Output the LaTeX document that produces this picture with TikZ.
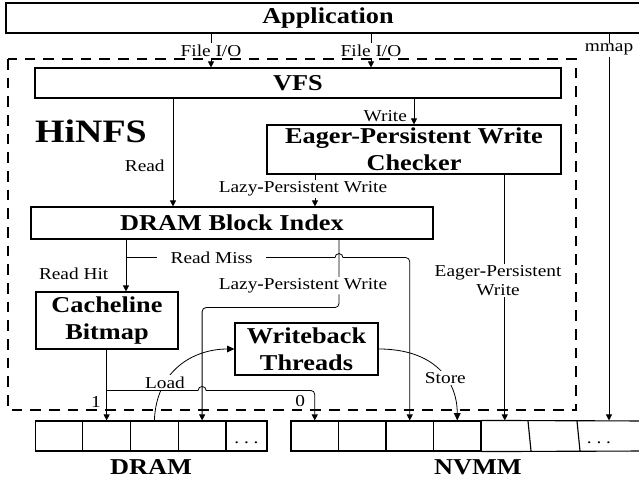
\documentclass[tikz,border=0pt]{standalone}
\usepackage{fontspec}
\setmainfont{Liberation Serif}[FakeStretch=1.16]
\usetikzlibrary{arrows.meta,positioning}

\begin{document}
\begin{tikzpicture}[x=0.75pt,y=-0.75pt,
    box/.style={draw,line width=0.85pt,inner sep=0pt,align=center,
      font=\fontsize{17}{20.5}\selectfont\bfseries},
    cell/.style={draw,line width=0.85pt,inner sep=0pt,
      minimum width=35.7pt,minimum height=22.5pt},
    cellline/.style={line width=0.85pt},
    lbl/.style={inner sep=1pt,align=center,font=\fontsize{12.5}{14}\selectfont},
    onln/.style={lbl,fill=white},
    flow/.style={line width=0.6pt,-{Triangle[length=4.5pt,width=4.5pt]}},
    bigflow/.style={line width=0.6pt,-{Triangle[length=5.5pt,width=5pt]}},
    memname/.style={font=\fontsize{17}{20}\selectfont\bfseries}]

  \useasboundingbox (0,0) rectangle (639,481);

  % x positions of the vertical connectors
  \coordinate (FileIOLeft) at (211,0);
  \coordinate (FileIORight) at (371,0);
  \coordinate (MmapX) at (609,0);
  \coordinate (ReadX) at (173,0);
  \coordinate (ReadHitX) at (126,0);
  \coordinate (LazyOneX) at (315,0);
  \coordinate (LazyTwoX) at (339,0);

  \node[box,minimum width=483pt,minimum height=22.5pt] (App) at (328,18) {Application};

  % HiNFS itself
  \draw[line width=0.9pt,dash pattern=on 8pt off 6pt] (8,59) rectangle (576,410);
  \node[font=\fontsize{24.5}{29}\selectfont\bfseries] (HiNFS) at (91,131) {HiNFS};

  \node[box,minimum width=394.5pt,minimum height=22.5pt] (VFS) at (298,83) {VFS};
  \node[box,minimum width=220.5pt,minimum height=36.75pt] (EPWC) at (414,149.5)
    {Eager-Persistent Write\\Checker};
  \node[box,minimum width=301.5pt,minimum height=24pt] (DBI) at (232,223) {DRAM Block Index};
  \node[box,minimum width=106.5pt,minimum height=42.75pt] (CLB) at (107,320.5) {Cacheline\\Bitmap};
  \node[box,minimum width=107.25pt,minimum height=39pt] (WBT) at (306.5,349) {Writeback\\Threads};

  % memory cells
  \foreach \i in {1,...,4}
    \node[cell] (D\i) at ({35+47.75*(\i-0.5)},436) {};
  \node[cell,minimum width=30.75pt] (D5) at (246.5,436) {};
  \node[lbl] (DramDots) at ([yshift=-5pt]D5) {.\ .\ .};

  \foreach \i in {1,...,4}
    \node[cell] (N\i) at ({291+47.5*(\i-0.5)},436) {};
  \node[cell,draw=none] (N5) at (504.75,436) {};
  \draw[cellline] (N4.north east) -- (650,421) (N4.south east) -- (650,451)
    (528,421) -- (531,451) (577,421) -- (580,451);
  \node[lbl] (NvmmDots) at (599,443) {.\ .\ .};

  \node[memname] (DramName) at (151,467) {DRAM};
  \node[memname] (NvmmName) at (478,467) {NVMM};

  % application entry points
  \draw[flow] (App.south -| FileIOLeft) -- node[onln] {File I/O} (VFS.north -| FileIOLeft);
  \draw[flow] (App.south -| FileIORight) -- node[onln] {File I/O} (VFS.north -| FileIORight);
  \draw[flow] (App.south -| MmapX) -- node[onln,pos=0.042] {mmap} (N5.north -| MmapX);

  % reads and writes below the VFS
  \draw[flow] (VFS.south -| EPWC) -- node[lbl,left,pos=0.67,xshift=-4pt] {Write} (EPWC.north);
  \draw[flow] (VFS.south -| ReadX) -- node[lbl,left=5pt,pos=0.62] {Read} (DBI.north -| ReadX);
  \draw[flow] (EPWC.south -| LazyOneX) --
    node[onln,pos=0.45,xshift=-9pt] {Lazy\textbf{-}Persistent Write} (DBI.north -| LazyOneX);
  \draw[flow] (EPWC.south -| N5) --
    node[onln,pos=0.43,xshift=-5pt] {Eager\textbf{-}Persistent\\Write} (N5.north);

  \draw[flow] (DBI.south -| ReadHitX) -- node[lbl,left=12pt,pos=0.66] {Read Hit} (CLB.north -| ReadHitX);
  \path (DBI.south -| ReadHitX) ++(0,18) coordinate (MissFork);
  \draw[flow] (MissFork) -- node[onln,inner xsep=10pt,pos=0.41] {Read Miss}
    ([xshift=-3pt]MissFork -| LazyTwoX) arc[start angle=180,end angle=0,radius=3pt]
    [rounded corners=3pt] -- (MissFork -| N3) -- (N3.north);

  \draw[flow,rounded corners=3pt] (DBI.south -| LazyTwoX) --
    node[onln,pos=0.68,xshift=-27pt] {Lazy\textbf{-}Persistent Write} ++(0,68) -| (D4.north);

  % bitmap bit: 1 = DRAM, 0 = NVMM
  \draw[flow] (CLB.south -| D2) -- node[lbl,left,pos=0.74,xshift=-3pt] {1} (D2.north);
  \path (D2.north) ++(0,-30) coordinate (BitFork);
  \draw[flow] (BitFork) -- ([xshift=-3pt]BitFork -| D4) arc[start angle=180,end angle=0,radius=3pt]
    [rounded corners=3pt] -- (BitFork -| N1) -- node[lbl,left,pos=0.37,xshift=-6pt] {0} (N1.north);

  % writeback
  \draw[bigflow] (D3.north) .. controls +(2,-51) and +(-40,0) .. node[onln,pos=0.3] {Load} (WBT.west);
  \draw[bigflow] (WBT.east) .. controls +(55,0) and +(0,-41) .. node[onln,pos=0.6] {Store} (N4.north);

\end{tikzpicture}
\end{document}
